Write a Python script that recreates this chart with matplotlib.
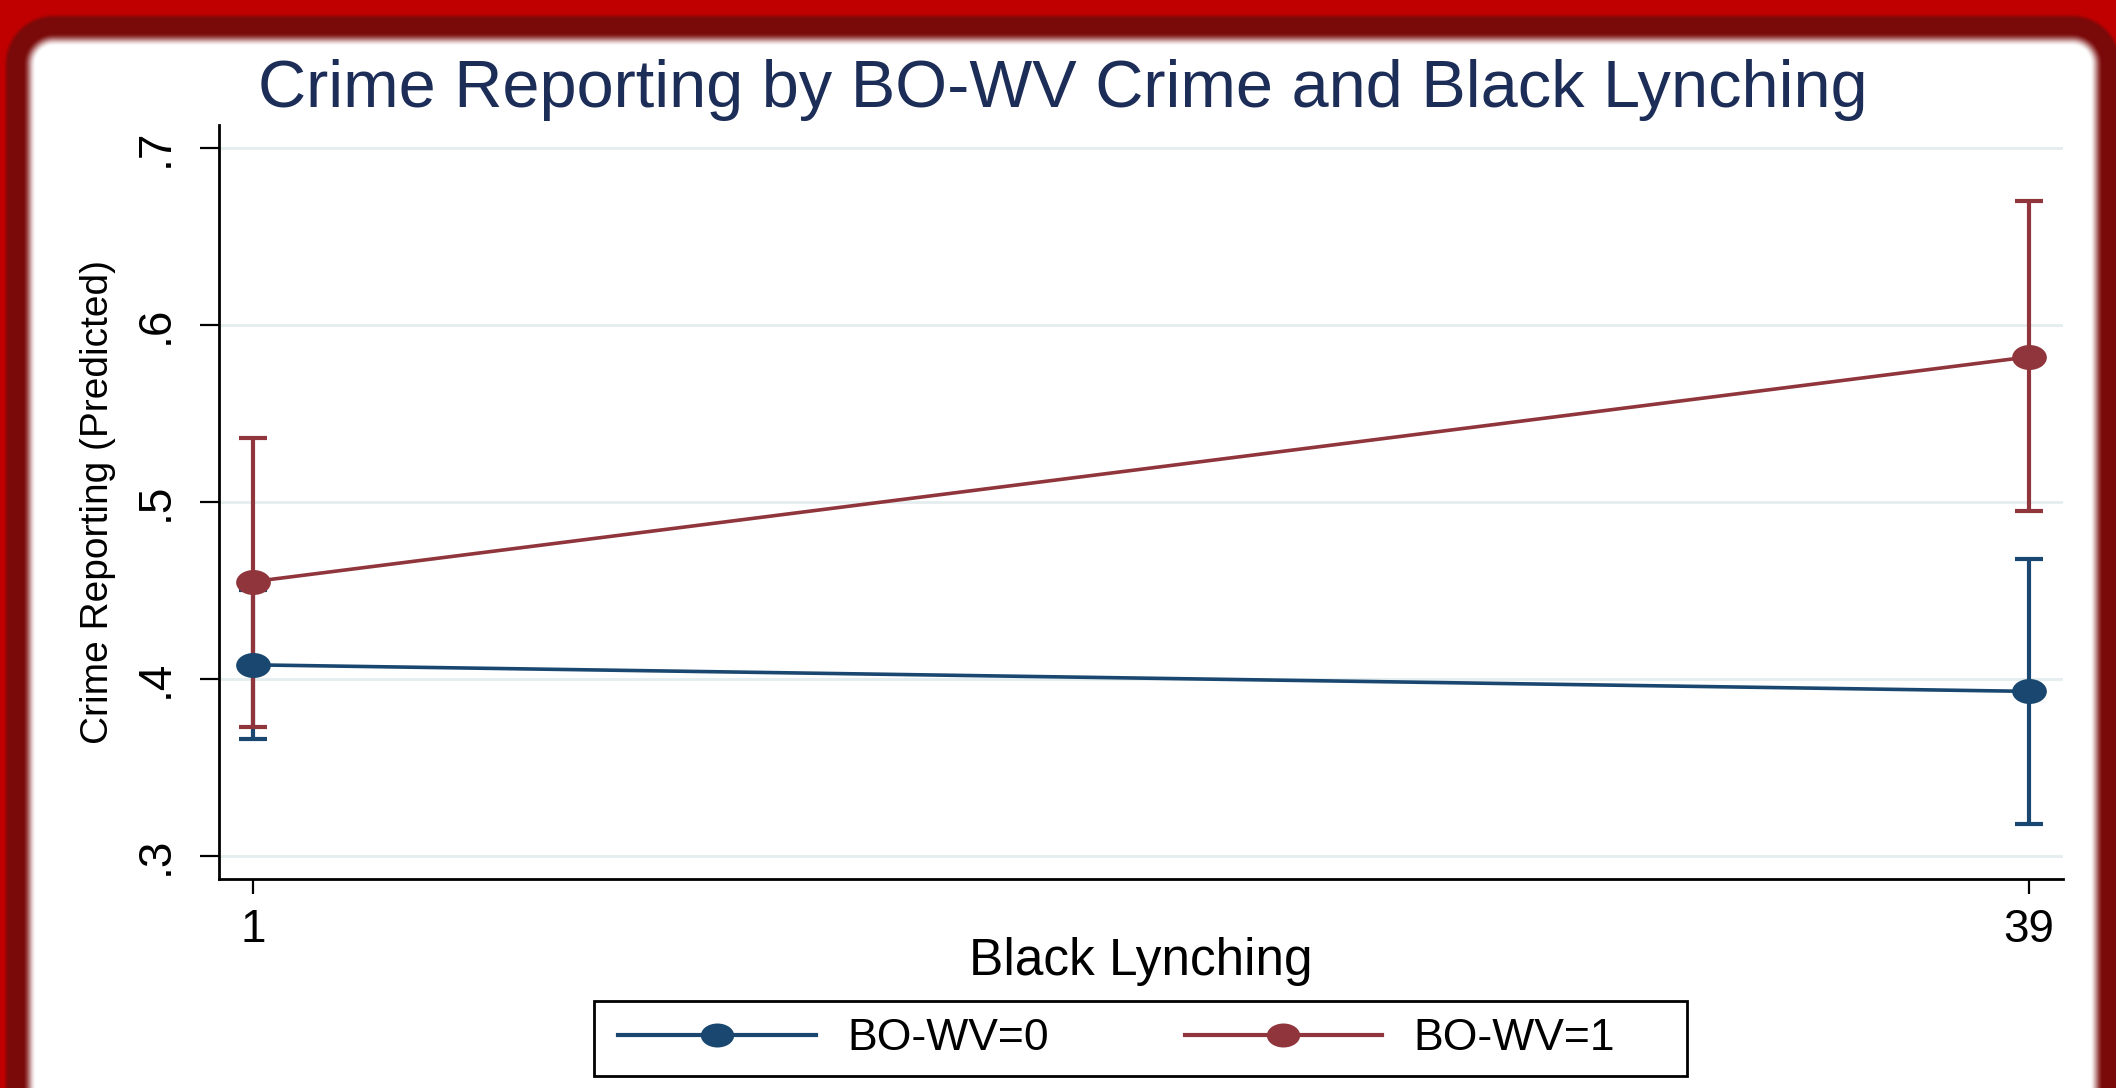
import numpy as np
import matplotlib
matplotlib.use("Agg")
import matplotlib.pyplot as plt
from matplotlib.path import Path
from matplotlib.lines import Line2D
from matplotlib.patches import Rectangle
from matplotlib import font_manager as fm

# ---------------- data ----------------
x_vals = [1, 39]
x_ticklabels = ["1", "39"]
y_ticks = [0.3, 0.4, 0.5, 0.6, 0.7]
y_ticklabels = [".3", ".4", ".5", ".6", ".7"]

series_names = ["BO-WV=0", "BO-WV=1"]
est_0 = [0.408, 0.393]
lo_0 = [0.366, 0.318]
hi_0 = [0.450, 0.468]
est_1 = [0.455, 0.582]
lo_1 = [0.373, 0.495]
hi_1 = [0.536, 0.670]

title = "Crime Reporting by BO-WV Crime and Black Lynching"
x_label = "Black Lynching"
y_label = "Crime Reporting (Predicted)"

# ---------------- style ----------------
W, H = 2116, 1088
navy = "#1A476F"
maroon = "#90353B"
title_col = "#1C2D57"
grid_col = "#E4EDEF"

avail = {f.name for f in fm.fontManager.ttflist}
base_font = "Liberation Sans" if "Liberation Sans" in avail else "DejaVu Sans"
plt.rcParams["font.family"] = [base_font, "DejaVu Sans"]

fig = plt.figure(figsize=(W / 100, H / 100), dpi=100)

# ---------------- frame background ----------------
yy, xx = np.mgrid[0:H, 0:W] + 0.5
L, T, R, B, r = 36, 46, 2090, 1400, 18
dx = np.maximum(np.maximum((L + r) - xx, xx - (R - r)), 0)
dy = np.maximum(np.maximum((T + r) - yy, yy - (B - r)), 0)
d = np.sqrt(dx ** 2 + dy ** 2) - r
d = np.maximum(d, 0)


def smooth(e0, e1, v):
    t = np.clip((v - e0) / (e1 - e0), 0, 1)
    return t * t * (3 - 2 * t)


white = np.array([1.0, 1.0, 1.0])
dark = np.array([122, 10, 10]) / 255
bright = np.array([192, 0, 0]) / 255
t1 = smooth(0, 13, d)[..., None]
t2 = smooth(27, 33, d)[..., None]
img = white * (1 - t1) + dark * t1
img = img * (1 - t2) + bright * t2
bg = fig.add_axes([0, 0, 1, 1], zorder=-10)
bg.imshow(img, aspect="auto", interpolation="bilinear")
bg.set_axis_off()

# ---------------- main axes ----------------
ax_l, ax_r, ax_b, ax_t = 219, 2063, 879, 125
ax = fig.add_axes([ax_l / W, 1 - ax_b / H, (ax_r - ax_l) / W, (ax_b - ax_t) / H])
ax.set_facecolor("none")

circ = Path.unit_circle()
ellipse = Path(circ.vertices * np.array([1.0, 0.72]), circ.codes)

for est, lo, hi, col in [(est_0, lo_0, hi_0, navy), (est_1, lo_1, hi_1, maroon)]:
    est_a, lo_a, hi_a = map(np.asarray, (est, lo, hi))
    ax.errorbar(x_vals, est_a, yerr=[est_a - lo_a, hi_a - est_a], fmt="none",
                ecolor=col, elinewidth=3.0, capsize=10, capthick=3.0, zorder=3)
for est, col in [(est_0, navy), (est_1, maroon)]:
    ax.plot(x_vals, est, color=col, lw=2.6, marker=ellipse, markersize=25,
            markeredgewidth=0, zorder=4)

ax.set_xlim(0.273, 39.727)
ax.set_ylim(0.287, 0.713)
ax.set_xticks(x_vals)
ax.set_xticklabels(x_ticklabels)
ax.set_yticks(y_ticks)
ax.set_yticklabels(y_ticklabels)
ax.grid(axis="y", color=grid_col, lw=2, zorder=0)
ax.set_axisbelow(True)
for s in ["top", "right"]:
    ax.spines[s].set_visible(False)
for s in ["left", "bottom"]:
    ax.spines[s].set_linewidth(2)
    ax.spines[s].set_color("black")
ax.tick_params(axis="x", length=11, width=1.6, pad=10, labelsize=33)
ax.tick_params(axis="y", length=14, width=1.6, pad=16, labelsize=33, labelrotation=90)
for lab in ax.get_yticklabels():
    lab.set_verticalalignment("center")

ax.set_ylabel(y_label, fontsize=28)
ax.yaxis.set_label_coords((116 - ax_l) / (ax_r - ax_l), 0.5)

ax.set_xlabel(x_label, fontsize=37, va="baseline")
ax.xaxis.set_label_coords(0.5, -(975 - ax_b) / (ax_b - ax_t))

fig.text(1063 / W, 1 - 107 / H, title, ha="center", va="baseline",
         fontsize=48, color=title_col)

# ---------------- legend ----------------
fig.patches.append(Rectangle((594 / W, 1 - 1076 / H), (1687 - 594) / W, (1076 - 1001) / H,
                             transform=fig.transFigure, facecolor="white",
                             edgecolor="black", lw=2, zorder=1))
handles = [Line2D([], [], color=c, lw=3, marker=ellipse, markersize=24,
                  markeredgewidth=0) for c in (navy, maroon)]
leg = fig.legend(handles, series_names, loc="center left", ncol=2,
                 bbox_to_anchor=(618 / W, 1 - 1039 / H), bbox_transform=fig.transFigure,
                 prop={"size": 32}, frameon=False,
                 handlelength=4.45, handletextpad=0.7, columnspacing=3.06,
                 borderpad=0, borderaxespad=0)
leg.set_zorder(2)

fig.savefig("out.png", dpi=100)
